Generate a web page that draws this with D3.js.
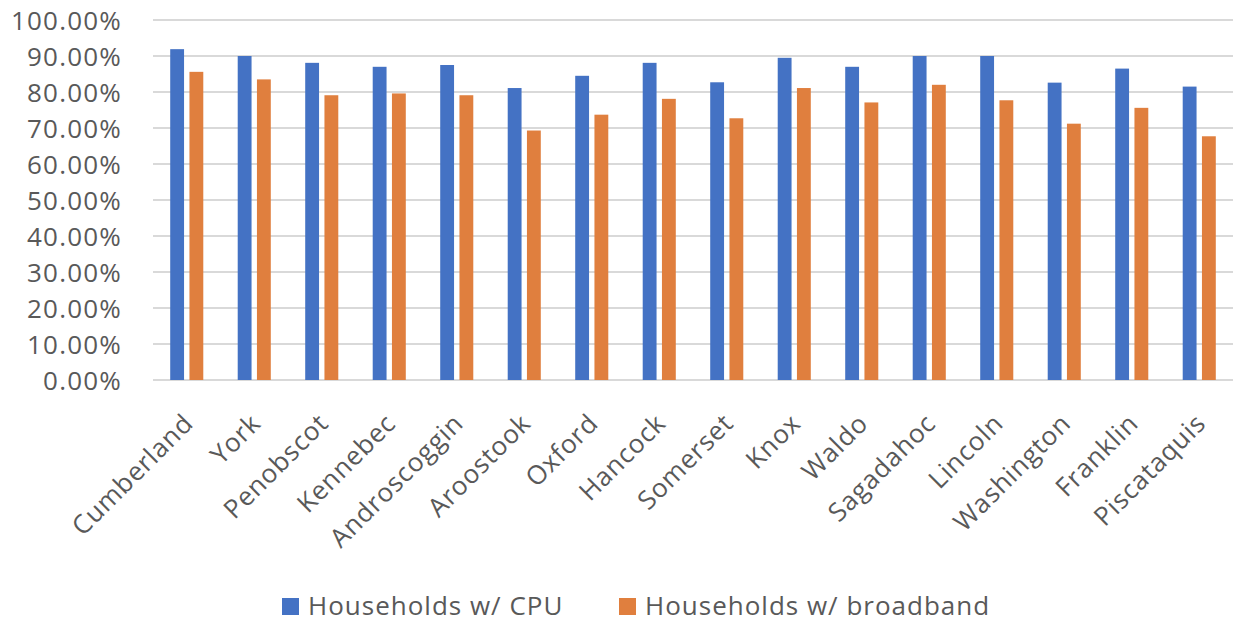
<!DOCTYPE html>
<html>
<head>
<meta charset="utf-8">
<script src="https://cdn.jsdelivr.net/npm/d3@7"></script>
<style>
  html, body { margin: 0; padding: 0; background: #fff; }
  svg { display: block; }
  text { font-family: "Open Sans", "Noto Sans", sans-serif; fill: #595959; }
</style>
</head>
<body>
<svg id="chart" width="1233" height="623"></svg>
<script>
// Maine counties: share of households with a computer and with broadband
const counties = ["Cumberland", "York", "Penobscot", "Kennebec", "Androscoggin", "Aroostook",
  "Oxford", "Hancock", "Somerset", "Knox", "Waldo", "Sagadahoc", "Lincoln", "Washington",
  "Franklin", "Piscataquis"];
const withCPU = [91.9, 90.0, 88.1, 87.0, 87.5, 81.1, 84.5, 88.1, 82.7, 89.5, 87.0, 90.0, 90.0, 82.6, 86.5, 81.5];
const withBroadband = [85.6, 83.5, 79.1, 79.6, 79.1, 69.3, 73.7, 78.1, 72.7, 81.1, 77.1, 82.0, 77.7, 71.2, 75.6, 67.7];
const seriesNames = ["Households w/ CPU", "Households w/ broadband"];
const seriesColors = ["#4472C4", "#E07F3E"];
const yTicks = [0, 10, 20, 30, 40, 50, 60, 70, 80, 90, 100];

const svg = d3.select("#chart");
const plot = { left: 153, right: 1233, top: 20, bottom: 380 };

const x = d3.scaleBand().domain(counties).range([plot.left, plot.right]).padding(0);
const y = d3.scaleLinear().domain([0, 100]).range([plot.bottom, plot.top]);

const barW = x.bandwidth() * 0.205;
const barGap = x.bandwidth() * 0.08;

// horizontal gridlines
svg.append("g")
  .selectAll("line")
  .data(yTicks)
  .join("line")
  .attr("x1", plot.left)
  .attr("x2", plot.right)
  .attr("y1", d => y(d))
  .attr("y2", d => y(d))
  .attr("stroke", "#D9D9D9")
  .attr("stroke-width", 2);

// y axis labels
const yAxis = d3.axisLeft(y).tickValues(yTicks).tickSize(0).tickPadding(0)
  .tickFormat(d => d3.format(".2f")(d) + "%");
const gy = svg.append("g").attr("transform", `translate(122,0)`).call(yAxis);
gy.select(".domain").remove();
gy.selectAll("text")
  .attr("font-size", 26)
  .attr("letter-spacing", 1.2)
  .attr("dy", "0.38em")
  .style("font-family", '"Open Sans", sans-serif')
  .attr("fill", "#595959");

// bars
const series = [withCPU, withBroadband];
series.forEach((vals, si) => {
  svg.append("g")
    .selectAll("rect")
    .data(counties.map((c, i) => ({ c, v: vals[i] })))
    .join("rect")
    .attr("x", d => {
      const mid = x(d.c) + x.bandwidth() / 2;
      return si === 0 ? mid - barGap / 2 - barW : mid + barGap / 2;
    })
    .attr("y", d => y(d.v))
    .attr("width", barW)
    .attr("height", d => y(0) - y(d.v))
    .attr("fill", seriesColors[si]);
});

// rotated category labels
const xAxis = d3.axisBottom(x).tickSize(0).tickPadding(0);
const gx = svg.append("g").attr("transform", `translate(0,${plot.bottom})`).call(xAxis);
gx.select(".domain").remove();
gx.selectAll("text")
  .attr("font-size", 26)
  .attr("letter-spacing", 0.8)
  .attr("text-anchor", "end")
  .attr("dy", 0)
  .attr("y", 0)
  .attr("transform", "translate(8,45) rotate(-45)")
  .style("font-family", '"Open Sans", sans-serif')
  .attr("fill", "#595959");

// legend
const legendItems = [{ x: 282 }, { x: 619 }];
const lg = svg.append("g");
seriesNames.forEach((name, i) => {
  lg.append("rect")
    .attr("x", legendItems[i].x)
    .attr("y", 598)
    .attr("width", 17)
    .attr("height", 17)
    .attr("fill", seriesColors[i]);
  lg.append("text")
    .attr("x", legendItems[i].x + 26)
    .attr("y", 606)
    .attr("dy", "0.36em")
    .attr("font-size", 26)
    .attr("letter-spacing", 1.0)
    .text(name);
});
</script>
</body>
</html>
